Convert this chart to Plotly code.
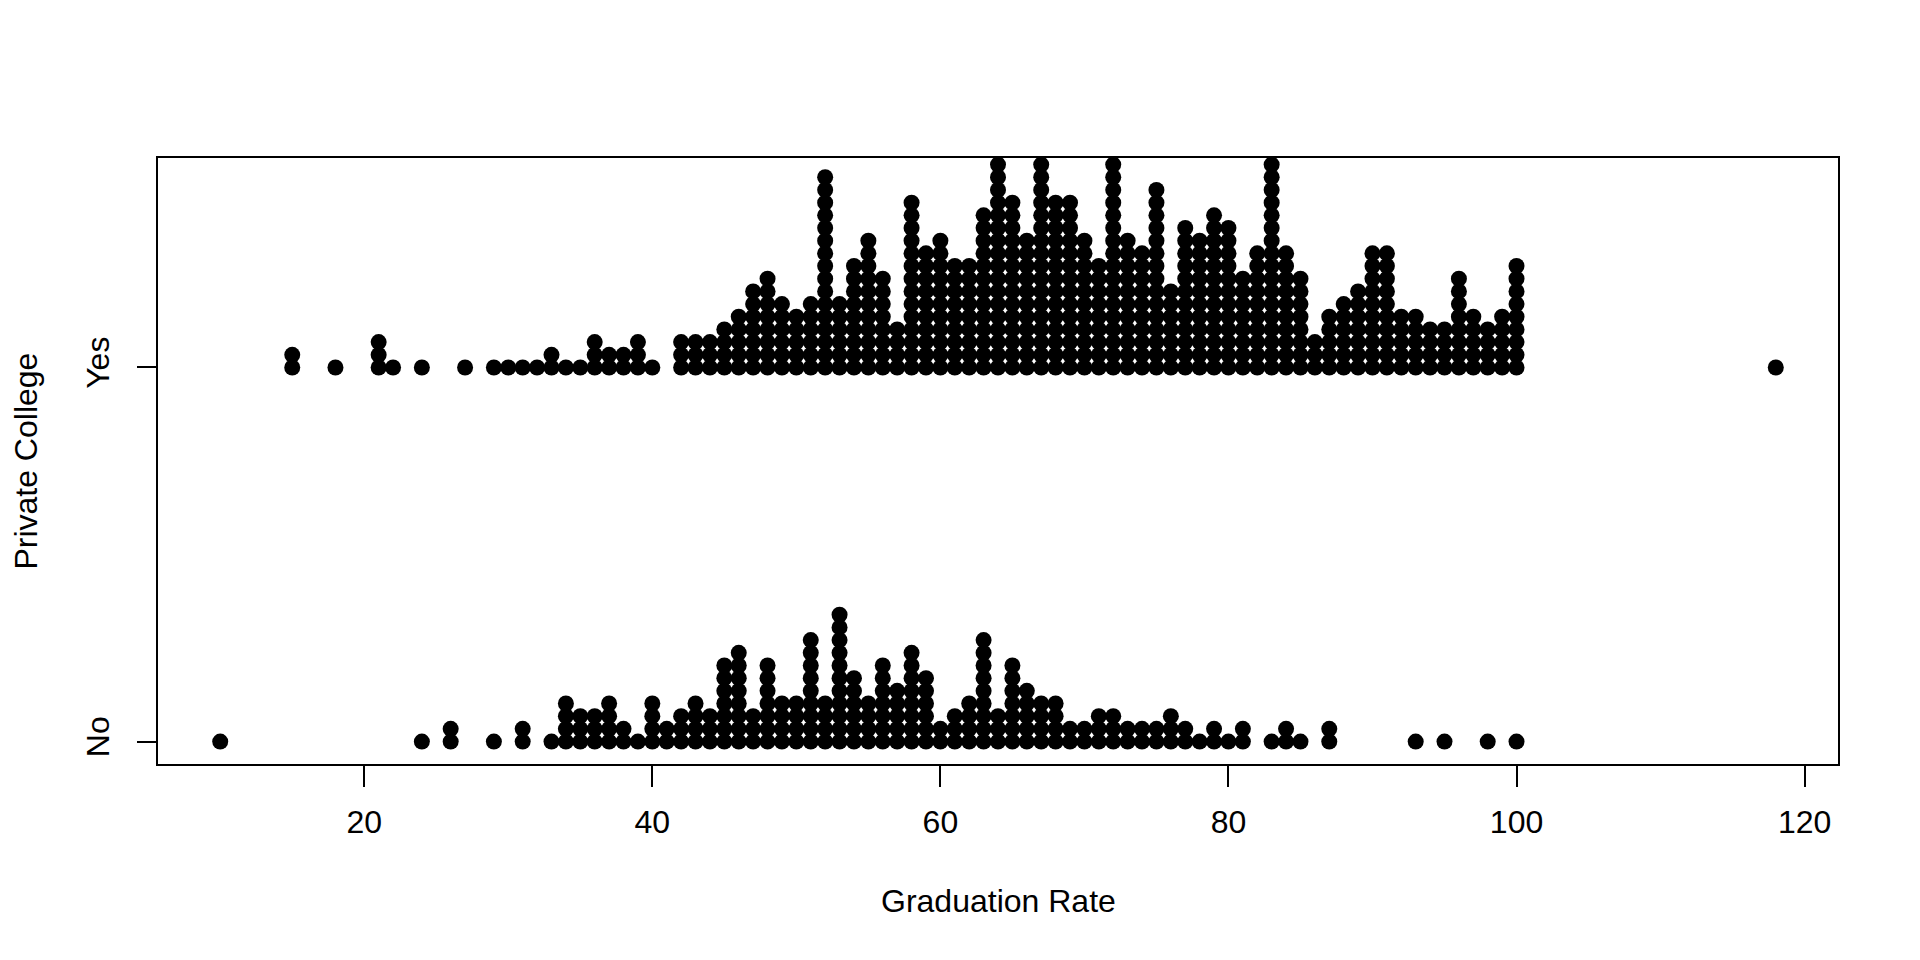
import plotly.graph_objects as go

# Graduation rate values (integer %) and how many colleges sit at each one
yes_rates = [15, 18, 21, 22, 24, 27, 29, 30, 31, 32, 33, 34, 35, 36, 37, 38, 39, 40,
             42, 43, 44, 45, 46, 47, 48, 49, 50, 51, 52, 53, 54, 55, 56, 57, 58, 59,
             60, 61, 62, 63, 64, 65, 66, 67, 68, 69, 70, 71, 72, 73, 74, 75, 76, 77,
             78, 79, 80, 81, 82, 83, 84, 85, 86, 87, 88, 89, 90, 91, 92, 93, 94, 95,
             96, 97, 98, 99, 100, 118]
yes_counts = [2, 1, 3, 1, 1, 1, 1, 1, 1, 1, 2, 1, 1, 3, 2, 2, 3, 1,
              3, 3, 3, 4, 5, 7, 8, 6, 5, 6, 16, 6, 9, 11, 8, 4, 14, 10,
              11, 9, 9, 13, 17, 14, 11, 17, 14, 14, 11, 9, 17, 11, 10, 15, 7, 12,
              11, 13, 12, 8, 10, 17, 10, 8, 3, 5, 6, 7, 10, 10, 5, 5, 4, 4,
              8, 5, 4, 5, 9, 1]

no_rates = [10, 24, 26, 29, 31, 33, 34, 35, 36, 37, 38, 39, 40, 41, 42, 43, 44, 45,
            46, 47, 48, 49, 50, 51, 52, 53, 54, 55, 56, 57, 58, 59, 60, 61, 62, 63,
            64, 65, 66, 67, 68, 69, 70, 71, 72, 73, 74, 75, 76, 77, 78, 79, 80, 81,
            83, 84, 85, 87, 93, 95, 98, 100]
no_counts = [1, 1, 2, 1, 2, 1, 4, 3, 3, 4, 2, 1, 4, 2, 3, 4, 3, 7,
             8, 3, 7, 4, 4, 9, 4, 11, 6, 4, 7, 5, 8, 6, 2, 3, 4, 9,
             3, 7, 5, 4, 4, 2, 2, 3, 3, 2, 2, 2, 3, 2, 1, 2, 1, 2,
             1, 2, 1, 2, 1, 1, 1, 1]

groups = ["No", "Yes"]
group_rates = [no_rates, yes_rates]
group_counts = [no_counts, yes_counts]

STACK_STEP = 0.0339  # vertical offset between stacked points (axis units)

# ---------- stack the points like stripchart(method="stack") ----------
fig = go.Figure()
for gi, (rates, counts) in enumerate(zip(group_rates, group_counts)):
    xs, ys = [], []
    for v, c in zip(rates, counts):
        for k in range(c):
            xs.append(v)
            ys.append(gi + 1 + k * STACK_STEP)
    fig.add_trace(go.Scatter(
        x=xs, y=ys, mode="markers", name=groups[gi],
        marker=dict(size=16, color="black", line=dict(width=0)),
        cliponaxis=True, hoverinfo="x",
    ))

FONT = "Liberation Sans, Arial, Helvetica, sans-serif"

fig.update_layout(
    width=1920, height=960,
    paper_bgcolor="white", plot_bgcolor="white",
    showlegend=False,
    # page body adds ~8px offset, so margins are trimmed on the left/top
    margin=dict(l=150, r=90, t=150, b=204),
    font=dict(family=FONT, size=32, color="black"),
    xaxis=dict(
        range=[5.68, 122.32], tickvals=[20, 40, 60, 80, 100, 120],
        showgrid=False, zeroline=False,
        showline=True, mirror=True, linecolor="black", linewidth=1.5,
        ticks="outside", ticklen=21, tickwidth=1.5, tickcolor="black",
        ticklabelstandoff=8,
        tickfont=dict(size=32),
    ),
    yaxis=dict(
        range=[0.94, 2.56], tickvals=[1, 2], ticktext=groups,
        showgrid=False, zeroline=False,
        showline=True, mirror=True, linecolor="black", linewidth=1.5,
        ticks="outside", ticklen=19, tickwidth=1.5, tickcolor="black",
        tickangle=-90, ticklabelstandoff=15,
        tickfont=dict(size=32),
    ),
    annotations=[
        dict(text="Graduation Rate", xref="paper", yref="paper",
             x=0.5, y=-0.226, xanchor="center", yanchor="middle",
             showarrow=False, font=dict(size=32)),
        dict(text="Private College", xref="paper", yref="paper",
             x=-0.0788, y=0.5, xanchor="center", yanchor="middle",
             textangle=-90, showarrow=False, font=dict(size=32)),
    ],
)

fig.write_html("out.html")
